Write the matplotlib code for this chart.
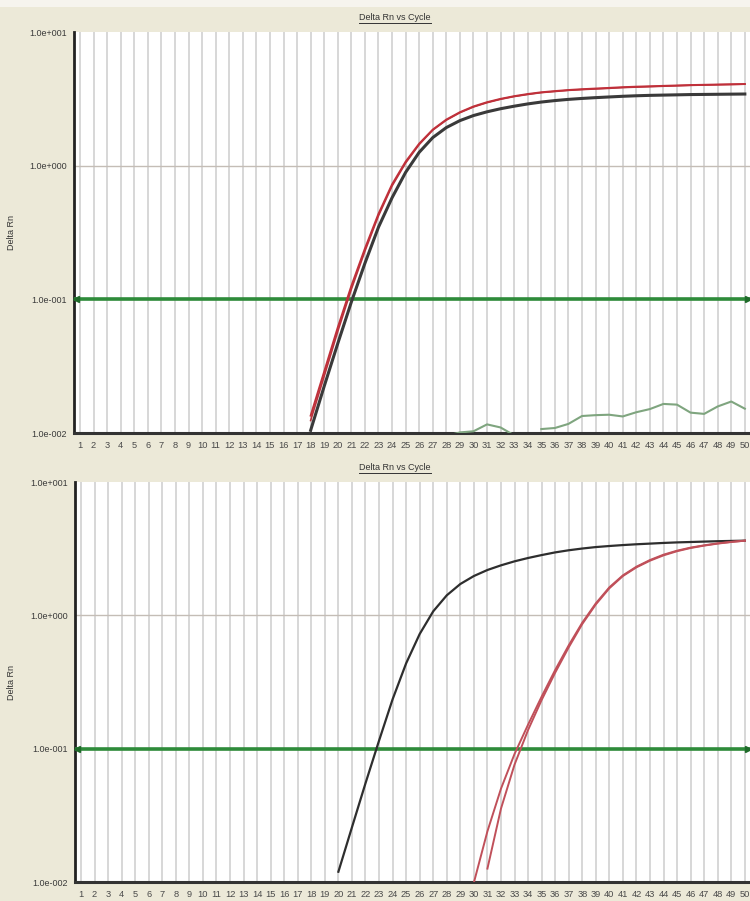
import numpy as np
import matplotlib.pyplot as plt
from matplotlib.lines import Line2D
from matplotlib.patches import Rectangle

plt.rcParams['font.family'] = ['Liberation Sans', 'DejaVu Sans']

title = "Delta Rn vs Cycle"
ylabel = "Delta Rn"
cycles = list(range(1, 51))
y_ticks = [10, 1, 0.1, 0.01]
y_ticklabels = ["1.0e+001", "1.0e+000", "1.0e-001", "1.0e-002"]
threshold = 0.1

# top plot
top_red_start = 18
top_red = [0.01349, 0.02884, 0.06166, 0.1259, 0.2399, 0.4365, 0.7244, 1.072, 1.462, 1.862,
           2.213, 2.512, 2.773, 2.985, 3.162, 3.311, 3.436, 3.54, 3.614, 3.681, 3.733, 3.776,
           3.819, 3.864, 3.899, 3.926, 3.954, 3.981, 4.009, 4.027, 4.046, 4.064, 4.083]
top_red2 = [0.0124, 0.0266, 0.0575, 0.1189, 0.2291, 0.4217, 0.7047, 1.047, 1.439, 1.845,
            2.19, 2.49, 2.75, 2.96, 3.14, 3.29, 3.41, 3.52, 3.59, 3.66, 3.71, 3.75, 3.79,
            3.84, 3.87, 3.9, 3.93, 3.96, 3.99, 4.01, 4.03, 4.05, 4.07]
top_black_start = 18
top_black = [0.01047, 0.02239, 0.04677, 0.0955, 0.1862, 0.3467, 0.5754, 0.8913, 1.259, 1.622,
             1.928, 2.173, 2.371, 2.529, 2.667, 2.786, 2.897, 2.992, 3.069, 3.133, 3.184,
             3.228, 3.266, 3.304, 3.334, 3.357, 3.373, 3.388, 3.404, 3.412, 3.42, 3.428, 3.436]
top_noise_start = 28
top_noise = [0.0095, 0.0101, 0.0103, 0.0116, 0.011, 0.0096, np.nan, 0.0107, 0.0109, 0.0117,
             0.0134, 0.0136, 0.0137, 0.0133, 0.0143, 0.0151, 0.0165, 0.0163, 0.0142, 0.0139,
             0.0158, 0.0172, 0.0152]

# bottom plot
bot_black_start = 20
bot_black = [0.01194, 0.0257, 0.055, 0.1148, 0.2344, 0.4365, 0.7244, 1.072, 1.413, 1.718,
             1.972, 2.188, 2.371, 2.541, 2.692, 2.831, 2.965, 3.076, 3.17, 3.251, 3.311,
             3.365, 3.412, 3.451, 3.491, 3.524, 3.548, 3.573, 3.597, 3.614, 3.631]
bot_red_a_start = 30
bot_red_a = [0.0099, 0.024, 0.0501, 0.0912, 0.1514, 0.2455, 0.389, 0.5957, 0.881, 1.23,
             1.622, 1.995, 2.317, 2.6, 2.851, 3.055, 3.221, 3.35, 3.467, 3.556, 3.631]
bot_red_b_start = 31
bot_red_b = [0.0126, 0.0355, 0.0759, 0.138, 0.2317, 0.3715, 0.5754, 0.861, 1.208, 1.596,
             1.972, 2.291, 2.57, 2.818, 3.027, 3.199, 3.334, 3.451, 3.548, 3.631]

bg = '#ECE9D8'
fig = plt.figure(figsize=(7.5, 9.01), dpi=100, facecolor=bg)
fig.patches.append(Rectangle((0, 1 - 7 / 901), 1, 7 / 901, transform=fig.transFigure,
                             facecolor='#F6F4EE', edgecolor='none', zorder=0))


def xs(start, vals):
    return list(range(start, start + len(vals)))


def setup(ax, top_px):
    ax.set_facecolor('white')
    ax.set_yscale('log')
    ax.set_ylim(0.01, 10)
    ax.set_xlim(0.56, 50.38)
    ax.set_xticks(cycles)
    ax.set_xticklabels([str(c) for c in cycles], fontsize=6.7, color='#4A4A4A')
    ax.set_yticks(y_ticks)
    ax.set_yticklabels(y_ticklabels, fontsize=6.5, color='#3A3A3A')
    ax.yaxis.set_minor_locator(plt.NullLocator())
    ax.tick_params(axis='both', length=0)
    ax.tick_params(axis='x', pad=6)
    ax.tick_params(axis='y', pad=5)
    for c in cycles:
        ax.axvline(c, color='#CDCDCD', lw=1.1, zorder=1)
    for v in y_ticks[1:3]:
        ax.axhline(v, color='#C4BDB6', lw=1.0, zorder=1)
    for s in ['top', 'right']:
        ax.spines[s].set_visible(False)
    ax.spines['left'].set_linewidth(2)
    ax.spines['left'].set_color('#222222')
    ax.spines['bottom'].set_linewidth(2.2)
    ax.spines['bottom'].set_color('#333333')
    # threshold
    ax.axhline(threshold, color='#2E8B3A', lw=2.6, zorder=3)
    x0, x1 = ax.get_xlim()
    ax.plot([x0 + 0.12], [threshold], marker='<', ms=4, color='#1F6B2A', zorder=4, clip_on=False)
    ax.plot([x1 - 0.12], [threshold], marker='>', ms=4, color='#1F6B2A', zorder=4, clip_on=False)
    t = fig.text(395 / 750, 1 - top_px / 901, title, ha='center', va='center',
                 fontsize=6.5, color='#333333')
    fig.text(12 / 750, ax.get_position().y0 + ax.get_position().height / 2, ylabel,
             rotation=90, ha='center', va='center', fontsize=6.5, color='#333333')
    return t


ax1 = fig.add_axes([74 / 750, 1 - 433 / 901, 676 / 750, 401 / 901])
t1 = setup(ax1, 18)
ax1.plot(xs(top_noise_start, top_noise), top_noise, color='#7FA57F', lw=1.5, zorder=5)
ax1.plot(xs(top_black_start, top_black), top_black, color='#3A3A3A', lw=2.2, zorder=5)
ax1.plot(xs(top_red_start, top_red2), top_red2, color='#B8333C', lw=1.2, zorder=6)
ax1.plot(xs(top_red_start, top_red), top_red, color='#C0303A', lw=1.4, zorder=6)

ax2 = fig.add_axes([75 / 750, 1 - 882 / 901, 675 / 750, 400 / 901])
t2 = setup(ax2, 468)
ax2.plot(xs(bot_black_start, bot_black), bot_black, color='#2E2E2E', lw=1.6, zorder=5)
ax2.plot(xs(bot_red_a_start, bot_red_a), bot_red_a, color='#C0505A', lw=1.4, zorder=6)
ax2.plot(xs(bot_red_b_start, bot_red_b), bot_red_b, color='#C0505A', lw=1.4, zorder=6)

# underline the titles
fig.canvas.draw()
r = fig.canvas.get_renderer()
for t in [t1, t2]:
    bb = t.get_window_extent(r).transformed(fig.transFigure.inverted())
    fig.add_artist(Line2D([bb.x0, bb.x1], [bb.y0 - 0.001, bb.y0 - 0.001],
                          transform=fig.transFigure, color='#333333', lw=0.7))

fig.savefig('out.png', dpi=100, facecolor=bg)
